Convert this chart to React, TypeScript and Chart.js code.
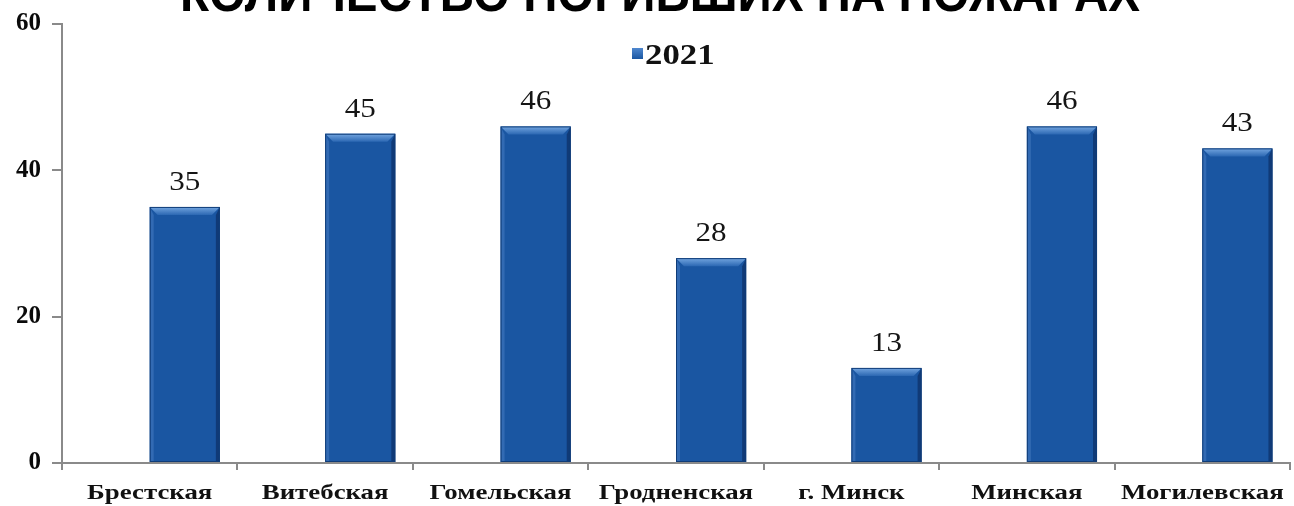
import React, { useEffect, useRef } from "react";
import { Chart, registerables } from "chart.js";

Chart.register(...registerables);

const chartTitle = "КОЛИЧЕСТВО ПОГИБШИХ НА ПОЖАРАХ";
const categories = [
  "Брестская",
  "Витебская",
  "Гомельская",
  "Гродненская",
  "г. Минск",
  "Минская",
  "Могилевская",
];
const seriesLabel = "2021";
const values2021 = [35, 45, 46, 28, 13, 46, 43];
// empty slot of the missing series (bars sit in the right half of each group)
const emptySeries = [null, null, null, null, null, null, null];
const yMin = 0;
const yMax = 60;
const yStep = 20;

const BAR_MAIN = "#1A56A2";
const BAR_EDGE = "#0F3C78";

function drawStretched(
  ctx: CanvasRenderingContext2D,
  text: string,
  x: number,
  y: number,
  sx: number,
  align: "left" | "center" | "right"
) {
  ctx.save();
  ctx.translate(x, y);
  ctx.scale(sx, 1);
  ctx.textAlign = align;
  ctx.fillText(text, 0, 0);
  ctx.restore();
}

const decorPlugin = {
  id: "decor",
  afterDatasetsDraw(chart: any) {
    const ctx: CanvasRenderingContext2D = chart.ctx;
    const meta = chart.getDatasetMeta(1);
    const ds = chart.data.datasets[1];
    meta.data.forEach((bar: any, i: number) => {
      const { x, y, base, width } = bar.getProps(["x", "y", "base", "width"], true);
      const left = x - width / 2;
      const right = x + width / 2;
      const b = 8;
      ctx.save();
      // top bevel
      const g = ctx.createLinearGradient(0, y, 0, y + b);
      g.addColorStop(0, "#74A6E0");
      g.addColorStop(1, "#2C68B3");
      ctx.fillStyle = g;
      ctx.beginPath();
      ctx.moveTo(left, y);
      ctx.lineTo(right, y);
      ctx.lineTo(right - b, y + b);
      ctx.lineTo(left + b, y + b);
      ctx.closePath();
      ctx.fill();
      // left bevel
      ctx.fillStyle = "rgba(80,130,200,0.45)";
      ctx.beginPath();
      ctx.moveTo(left, y);
      ctx.lineTo(left + 4, y + b);
      ctx.lineTo(left + 4, base);
      ctx.lineTo(left, base);
      ctx.closePath();
      ctx.fill();
      // right bevel
      ctx.fillStyle = "rgba(5,30,75,0.5)";
      ctx.beginPath();
      ctx.moveTo(right, y);
      ctx.lineTo(right - 4, y + b);
      ctx.lineTo(right - 4, base);
      ctx.lineTo(right, base);
      ctx.closePath();
      ctx.fill();
      ctx.strokeStyle = BAR_EDGE;
      ctx.lineWidth = 1;
      ctx.strokeRect(left + 0.5, y + 0.5, width - 1, base - y - 1);
      ctx.restore();

      // value label
      const v = ds.data[i];
      ctx.save();
      ctx.fillStyle = "#151515";
      ctx.font = "27px 'Liberation Serif', 'Times New Roman', serif";
      ctx.textBaseline = "alphabetic";
      drawStretched(ctx, String(v), x, y - 17, 1.15, "center");
      ctx.restore();
    });

    // category labels
    const xs = chart.scales.x;
    ctx.save();
    ctx.fillStyle = "#111";
    ctx.font = "bold 22px 'Liberation Serif', 'Times New Roman', serif";
    ctx.textBaseline = "alphabetic";
    chart.data.labels.forEach((lab: string, i: number) => {
      drawStretched(ctx, lab, xs.getPixelForValue(i), 499, 1.22, "center");
    });
    ctx.restore();

    // legend
    ctx.save();
    const lg = ctx.createLinearGradient(0, 48, 0, 59);
    lg.addColorStop(0, "#4F88CF");
    lg.addColorStop(1, BAR_MAIN);
    ctx.fillStyle = lg;
    ctx.fillRect(632, 48, 11, 11);
    ctx.fillStyle = "#111";
    ctx.font = "bold 29px 'Liberation Serif', 'Times New Roman', serif";
    ctx.textBaseline = "alphabetic";
    drawStretched(ctx, ds.label, 645, 64, 1.2, "left");
    ctx.restore();

    // title (cut off at the top)
    ctx.save();
    ctx.fillStyle = "#000";
    ctx.font = "bold 52px 'Liberation Sans', Arial, sans-serif";
    ctx.textBaseline = "alphabetic";
    const w = ctx.measureText(chartTitle).width;
    drawStretched(ctx, chartTitle, 660, 11, 960 / w, "center");
    ctx.restore();
  },
};

export default function App() {
  const ref = useRef<HTMLCanvasElement | null>(null);
  useEffect(() => {
    document.body.style.margin = "0";
    const canvas = ref.current!;
    const chart = new Chart(canvas, {
      type: "bar",
      data: {
        labels: categories,
        datasets: [
          {
            label: "",
            data: emptySeries as any,
            backgroundColor: "rgba(0,0,0,0)",
          },
          {
            label: seriesLabel,
            data: values2021,
            backgroundColor: BAR_MAIN,
          },
        ],
      },
      options: {
        animation: false,
        responsive: false,
        maintainAspectRatio: false,
        layout: { padding: { top: 24, right: 4, left: 0, bottom: 0 } },
        datasets: { bar: { categoryPercentage: 0.8, barPercentage: 1.0 } },
        plugins: {
          legend: { display: false },
          title: { display: false },
          tooltip: { enabled: false },
        },
        scales: {
          x: {
            grid: {
              display: true,
              drawOnChartArea: false,
              drawTicks: true,
              tickLength: 7,
              color: "#8a8a8a",
              lineWidth: 2,
              offset: true,
            },
            border: { color: "#8a8a8a", width: 2 },
            ticks: { display: false },
            afterFit: (s: any) => {
              s.height = 43;
            },
          },
          y: {
            min: yMin,
            max: yMax,
            grid: {
              drawOnChartArea: false,
              drawTicks: true,
              tickLength: 10,
              color: "#8a8a8a",
              lineWidth: 2,
            },
            border: { color: "#8a8a8a", width: 2 },
            ticks: {
              stepSize: yStep,
              padding: 11,
              color: "#0a0a0a",
              font: {
                family: "'Liberation Serif', 'Times New Roman', serif",
                size: 25,
                weight: "bold",
                lineHeight: 1.0,
              },
            },
            afterFit: (s: any) => {
              s.width = 62;
            },
          },
        },
      },
      plugins: [decorPlugin],
    });
    return () => chart.destroy();
  }, []);
  return (
    <div style={{ width: 1294, height: 506, background: "#fff" }}>
      <canvas ref={ref} width={1294} height={506} style={{ display: "block" }} />
    </div>
  );
}
